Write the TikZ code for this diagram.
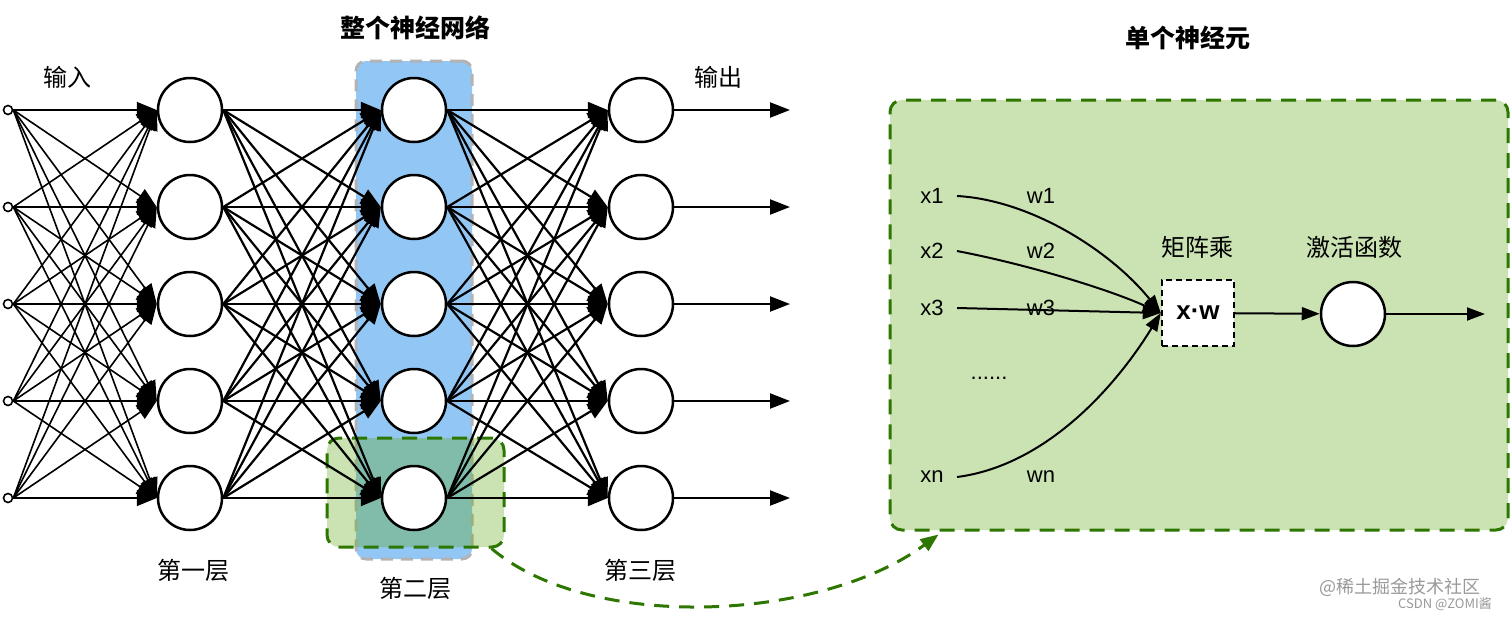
\documentclass[tikz,border=0pt]{standalone}
\usepackage{fontspec}
\setmainfont{Liberation Sans}
\newfontfamily\cjk{Noto Sans CJK SC}
\usetikzlibrary{arrows.meta}

\definecolor{bluelayer}{RGB}{146,198,244}
\definecolor{greenfill}{RGB}{96,169,23}
\definecolor{greenline}{RGB}{45,118,0}
\definecolor{grayline}{RGB}{179,179,179}

\begin{document}
\begin{tikzpicture}[x=0.5pt,y=0.5pt]
	\tikzstyle{every node}+=[inner sep=0pt]
	\tikzstyle{neuron}=[circle,draw=black,fill=white,line width=1.25pt,minimum size=32pt]
	\tikzstyle{inp}=[circle,draw=black,fill=white,line width=0.8pt,minimum size=4.5pt]
	\tikzstyle{edge}=[line width=1.1pt,-{Triangle[length=10pt,width=8pt]}]
	\tikzstyle{sel}=[draw=greenline,fill=greenfill,fill opacity=0.33,line width=1.5pt,dash pattern=on 7.5pt off 5pt,rounded corners=6pt]
	\tikzstyle{lbl}=[font=\cjk\fontsize{12}{14}\selectfont]
	\tikzstyle{ttl}=[font=\cjk\bfseries\fontsize{12.5}{15}\selectfont]
	\tikzstyle{var}=[font=\fontsize{11}{13}\selectfont]
	\useasboundingbox (0,0) rectangle (1512,-617);
	\draw (414,-310) node[draw=grayline,fill=bluelayer,line width=1.5pt,dash pattern=on 6pt off 4pt,rounded corners=5pt,minimum width=58pt,minimum height=249pt] (blk) {};
	\draw (415.5,-492.5) node[sel,minimum width=88.5pt,minimum height=54.5pt] (pick) {};
	\draw (1199,-315) node[sel,minimum width=309pt,minimum height=215pt] (panel) {};
	\foreach \i/\y in {1/110,2/207,3/304,4/401,5/498} {
		\draw (8,-\y) node[inp] (i\i) {};
		\draw (190,-\y) node[neuron] (a\i) {};
		\draw (414,-\y) node[neuron] (b\i) {};
		\draw (641,-\y) node[neuron] (c\i) {};
		\coordinate (o\i) at (790,-\y);
	}
	\foreach \i in {1,...,5}
		\foreach \j in {1,...,5} {
			\draw [edge,line width=0.8pt] (i\i.east) -- (a\j.west);
			\draw [edge] (a\i.east) -- (b\j.west);
			\draw [edge] (b\i.east) -- (c\j.west);
		}
	\foreach \i in {1,...,5}
		\draw [line width=1.1pt,-{Triangle[length=10pt,width=7.5pt]}] (c\i) -- (o\i);
	\draw (67,-77) node[lbl] (lin) {输入};
	\draw (718,-77) node[lbl] (lout) {输出};
	\draw (193,-570) node[lbl] (l1) {第一层};
	\draw (415,-588) node[lbl] (l2) {第二层};
	\draw (640,-570) node[lbl] (l3) {第三层};
	\draw (415,-28) node[ttl] (t1) {整个神经网络};
	\draw (1188,-38) node[ttl] (t2) {单个神经元};
	\draw [greenline,line width=1.5pt,dash pattern=on 7.5pt off 5pt,-{Triangle[length=9pt,width=7pt]}] ([xshift=-7pt]pick.south east) .. controls (590,-632) and (820,-622) .. ([shift={(25pt,-1.5pt)}]panel.south west);
	\draw (932,-196) node[var] (x1) {x1};
	\draw (932,-251) node[var] (x2) {x2};
	\draw (932,-308) node[var] (x3) {x3};
	\draw (932,-477) node[var] (xn) {xn};
	\draw (989,-378) node[var] (dots) {......};
	\draw (1041,-196) node[var] (w1) {w1};
	\draw (1041,-251) node[var] (w2) {w2};
	\draw (1041,-308) node[var] (w3) {w3};
	\draw (1041,-477) node[var] (wn) {wn};
	\draw (1197,-247) node[lbl] (mlbl) {矩阵乘};
	\draw (1354,-247) node[lbl] (albl) {激活函数};
	\draw (1198,-313) node[draw=black,fill=white,line width=1.2pt,dash pattern=on 3pt off 2pt,minimum width=36pt,minimum height=33pt,font=\bfseries\fontsize{13}{15}\selectfont] (mul) {x·w};
	\draw (1353,-314) node[neuron] (act) {};
	\coordinate (yout) at (1485,-314);
	\draw [line width=1pt,-{Triangle[length=9pt,width=6.5pt]}] ([xshift=6.5pt]x1.east) .. controls (1030,-200) and (1110,-250) .. (mul.west);
	\draw [line width=1pt,-{Triangle[length=9pt,width=6.5pt]}] ([xshift=6.5pt]x2.east) .. controls (1030,-265) and (1110,-290) .. (mul.west);
	\draw [line width=1pt,-{Triangle[length=9pt,width=6.5pt]}] ([xshift=6.5pt]x3.east) -- (mul.west);
	\draw [line width=1pt,-{Triangle[length=9pt,width=6.5pt]}] ([xshift=6.5pt]xn.east) .. controls (1050,-465) and (1120,-380) .. (mul.west);
	\draw [line width=1pt,-{Triangle[length=9pt,width=6.5pt]}] (mul) -- (act);
	\draw [line width=1pt,-{Triangle[length=9pt,width=6.5pt]}] (act) -- (yout);
	\draw (1400,-587) node[font=\cjk\fontsize{9}{11}\selectfont,text=black!40] (wm1) {@稀土掘金技术社区};
	\draw (1445,-604) node[font=\cjk\fontsize{6.5}{8}\selectfont,text=black!40] (wm2) {CSDN @ZOMI酱};
\end{tikzpicture}
\end{document}
